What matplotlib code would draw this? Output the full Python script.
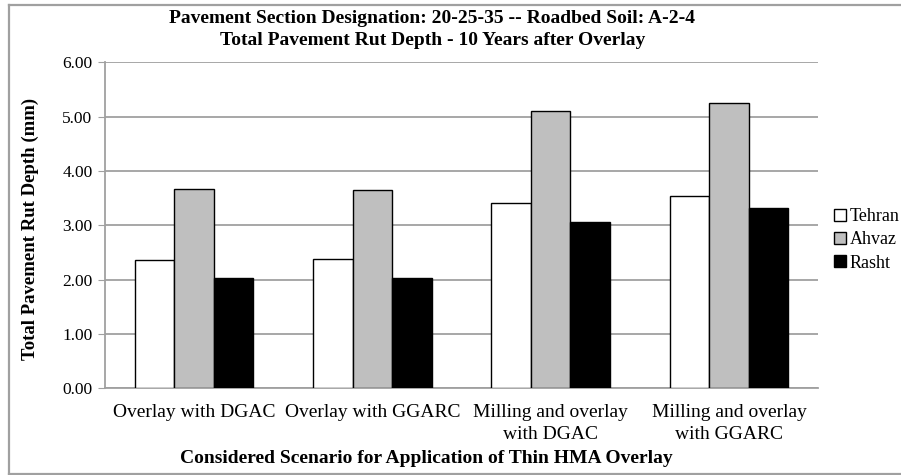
import numpy as np
import matplotlib.pyplot as plt
from matplotlib.lines import Line2D

plt.rcParams['font.family'] = ['Liberation Serif', 'DejaVu Serif']

# data
scenarios = ['Overlay with DGAC', 'Overlay with GGARC',
             'Milling and overlay\nwith DGAC', 'Milling and overlay\nwith GGARC']
cities = ['Tehran', 'Ahvaz', 'Rasht']
tehran = [2.37, 2.38, 3.41, 3.53]
ahvaz = [3.67, 3.65, 5.11, 5.25]
rasht = [2.03, 2.03, 3.06, 3.31]
colors = ['white', '#bfbfbf', 'black']

fig = plt.figure(figsize=(9.01, 4.75), dpi=100)
ax = fig.add_axes([0.1165, 0.1825, 0.7915, 0.6865])

x = np.arange(len(scenarios))
w = 0.222
for i, (vals, c) in enumerate(zip([tehran, ahvaz, rasht], colors)):
    ax.bar(x + (i - 1) * w, vals, w, color=c, edgecolor='black',
           linewidth=1.0, label=cities[i], zorder=3)

ax.set_xlim(-0.5, 3.5)
ax.set_ylim(0, 6)
ax.set_yticks(np.arange(0, 6.01, 1))
ax.set_yticklabels(['%.2f' % v for v in np.arange(0, 6.01, 1)], fontsize=12.5)
ax.set_xticks(x)
ax.set_xticklabels(scenarios, fontsize=14, linespacing=1.4)
ax.tick_params(axis='x', length=0, pad=11)
ax.tick_params(axis='y', length=5, color='#a0a0a0', pad=4)
ax.yaxis.grid(True, color='#a0a0a0', linewidth=1.3, zorder=0)
for s in ['top', 'right']:
    ax.spines[s].set_visible(False)
for s in ['left', 'bottom']:
    ax.spines[s].set_color('#a0a0a0')
    ax.spines[s].set_linewidth(1.3)

ax.set_ylabel('Total Pavement Rut Depth (mm)', fontsize=13.5, fontweight='bold')
ax.yaxis.set_label_coords(-0.092, 0.49)
ax.set_xlabel('Considered Scenario for Application of Thin HMA Overlay',
              fontsize=14, fontweight='bold')
ax.xaxis.set_label_coords(0.45, -0.188)
fig.text(0.48, 0.962, 'Pavement Section Designation: 20-25-35 -- Roadbed Soil: A-2-4',
         ha='center', va='center', fontsize=14, fontweight='bold')
fig.text(0.48, 0.914, 'Total Pavement Rut Depth - 10 Years after Overlay',
         ha='center', va='center', fontsize=14, fontweight='bold')

fig.legend(loc='center left', bbox_to_anchor=(0.918, 0.495), frameon=False,
           fontsize=13, handlelength=0.65, handleheight=0.65, handletextpad=0.2,
           labelspacing=0.35, borderaxespad=0)

# chart area border (right edge is cut off in the original)
bc = '#a0a0a0'
fig.add_artist(Line2D([0.010, 1.0], [0.9905, 0.9905], color=bc, lw=1.6))
fig.add_artist(Line2D([0.010, 0.010], [0.003, 0.9905], color=bc, lw=1.6))
fig.add_artist(Line2D([0.010, 1.0], [0.003, 0.003], color=bc, lw=1.6))

fig.savefig('out.png', dpi=100)
